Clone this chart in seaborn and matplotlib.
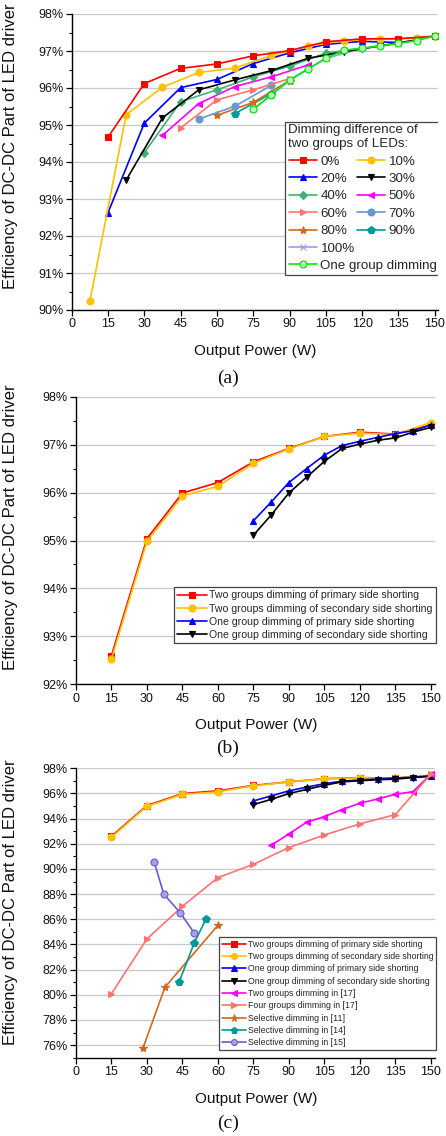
import matplotlib
matplotlib.use("Agg")
import matplotlib.pyplot as plt
import seaborn as sns
from matplotlib.lines import Line2D
from matplotlib.patches import Rectangle
from matplotlib.ticker import MultipleLocator, AutoMinorLocator, PercentFormatter

# ---------------- data ----------------
# (a) dimming difference of two LED groups
P0_X = [15, 30, 45, 60, 75, 90, 105, 120, 135, 150]
P0_Y = [94.67, 96.12, 96.53, 96.65, 96.87, 97.01, 97.25, 97.33, 97.33, 97.40]
P10_X = [7.5, 22.5, 37.5, 52.5, 67.5, 82.5, 97.5, 112.5, 127.5, 142.5, 150]
P10_Y = [90.23, 95.28, 96.02, 96.42, 96.54, 96.88, 97.13, 97.28, 97.32, 97.36, 97.40]
P20_X = [15, 30, 45, 60, 75, 90, 105, 120, 135]
P20_Y = [92.63, 95.05, 96.01, 96.23, 96.66, 96.95, 97.18, 97.26, 97.23]
P30_X = [22.5, 37.5, 52.5, 67.5, 82.5, 97.5, 112.5, 127.5, 142.5]
P30_Y = [93.51, 95.19, 95.95, 96.22, 96.47, 96.80, 96.98, 97.14, 97.30]
P40_X = [30, 45, 60, 75, 90, 105, 120]
P40_Y = [94.25, 95.63, 95.95, 96.30, 96.59, 96.94, 97.08]
P50_X = [37.5, 52.5, 67.5, 82.5, 97.5]
P50_Y = [94.72, 95.58, 96.04, 96.30, 96.62]
P60_X = [45, 60, 75, 90]
P60_Y = [94.92, 95.68, 95.95, 96.25]
P70_X = [52.5, 67.5, 82.5]
P70_Y = [95.16, 95.51, 96.07]
P80_X = [60, 75, 90]
P80_Y = [95.26, 95.61, 96.20]
P90_X = [67.5, 82.5]
P90_Y = [95.31, 95.85]
P100_X = [75, 90, 105, 120, 135, 150]
P100_Y = [95.42, 96.20, 96.80, 97.07, 97.20, 97.40]
ONE_A_X = [75, 82.5, 90, 97.5, 105, 112.5, 120, 127.5, 135, 142.5, 150]
ONE_A_Y = [95.43, 95.81, 96.22, 96.51, 96.80, 97.02, 97.07, 97.14, 97.21, 97.28, 97.41]

# (b) primary vs. secondary side shorting
TWO_X = [15, 30, 45, 60, 75, 90, 105, 120, 135, 150]
TWO_PRI_Y = [92.60, 95.04, 95.99, 96.21, 96.64, 96.92, 97.17, 97.26, 97.22, 97.41]
TWO_SEC_Y = [92.53, 94.98, 95.93, 96.13, 96.61, 96.91, 97.17, 97.24, 97.21, 97.46]
ONE_X = [75, 82.5, 90, 97.5, 105, 112.5, 120, 127.5, 135, 142.5, 150]
ONE_PRI_Y = [95.41, 95.80, 96.21, 96.50, 96.78, 96.98, 97.07, 97.15, 97.23, 97.29, 97.41]
ONE_SEC_Y = [95.11, 95.53, 95.99, 96.32, 96.65, 96.92, 97.01, 97.09, 97.14, 97.26, 97.36]

# (c) comparison with published dimming schemes
TWO17_X = [82.5, 90, 97.5, 105, 112.5, 120, 127.5, 135, 142.5, 150]
TWO17_Y = [91.88, 92.78, 93.71, 94.16, 94.72, 95.22, 95.56, 95.93, 96.15, 97.52]
FOUR17_X = [15, 30, 45, 60, 75, 90, 105, 120, 135, 150]
FOUR17_Y = [80.09, 84.44, 87.03, 89.31, 90.37, 91.70, 92.70, 93.58, 94.32, 97.52]
SEL11_X = [28.3, 37.6, 60.0]
SEL11_Y = [75.75, 80.60, 85.52]
SEL14_X = [43.6, 50.0, 55.0]
SEL14_Y = [81.02, 84.12, 86.03]
SEL15_X = [33.1, 37.1, 44.0, 50.0]
SEL15_Y = [90.53, 88.01, 86.53, 84.91]

XTICKS = [0, 15, 30, 45, 60, 75, 90, 105, 120, 135, 150]

# ---------------- styling ----------------
sns.set_theme(style="white")
plt.rcParams["font.family"] = ["Liberation Sans", "DejaVu Sans"]
plt.rcParams["axes.edgecolor"] = "black"

W, H = 446, 1136
fig = plt.figure(figsize=(W / 100, H / 100), dpi=100)


def add_axes(left, top, right, bottom):
    return fig.add_axes([left / W, 1 - bottom / H, (right - left) / W, (bottom - top) / H])


def style(color, marker, ms=5.0, mfc=None, mec=None):
    return dict(color=color, marker=marker, markersize=ms,
                markerfacecolor=mfc if mfc else color,
                markeredgecolor=mec if mec else color,
                markeredgewidth=0.8, linewidth=1.2)


def draw(ax, x, y, st, z=2):
    sns.lineplot(x=x, y=y, ax=ax, sort=False, estimator=None, legend=False,
                 zorder=z, **st)


def handle(st):
    return Line2D([], [], **st)


def format_axes(ax, xmax, ylim, ymajor, height_px):
    ax.set_xlim(0, xmax)
    ax.set_ylim(*ylim)
    ax.set_xticks(XTICKS)
    ax.yaxis.set_major_locator(MultipleLocator(ymajor))
    ax.yaxis.set_minor_locator(AutoMinorLocator(2))
    ax.yaxis.set_major_formatter(PercentFormatter(xmax=100, decimals=0))
    for s in ["top", "right"]:
        ax.spines[s].set_visible(False)
    for s in ["left", "bottom"]:
        ax.spines[s].set_color("black")
        ax.spines[s].set_linewidth(1.0)
    ax.tick_params(axis="both", which="major", direction="out", length=4,
                   width=0.9, color="black", labelsize=9, pad=2,
                   bottom=True, left=True, labelcolor="#111111")
    ax.tick_params(axis="y", which="minor", direction="out", length=2.5,
                   width=0.8, color="black", left=True)
    ax.yaxis.grid(True, color="#c8c8c8", linewidth=0.9)
    ax.xaxis.grid(False)
    ax.set_axisbelow(True)
    ax.set_xlabel("Output Power (W)", fontsize=11, color="#111111")
    ax.xaxis.label.set_va("center")
    ax.xaxis.set_label_coords(0.5, -41 / height_px)
    ax.set_ylabel("Efficiency of DC-DC Part of LED driver", fontsize=12,
                  color="#111111")
    ax.yaxis.label.set_va("center")


RED = style("#FF0000", "s")
GOLD = style("#FFC000", "o")
BLUE = style("#0000FF", "^")
BLACK = style("#000000", "v")
GREEN40 = style("#3CB371", "D", ms=4.5)
MAGENTA = style("#FF00FF", "<")
SALMON = style("#FF7373", ">")
STEEL = style("#6699CC", "o")
BROWN = style("#D2691E", "*", ms=6)
TEAL = style("#009999", "p", ms=5.5)
LAVENDER = style("#9999EE", "x", ms=4.5)
LIME = style("#00EE00", "o", mfc="#B8FFB8", mec="#00DD00")
SLATE = style("#6A5ACD", "o", mfc="#A89FE8")

# ---------------- panel (a) ----------------
axA = add_axes(71.7, 14, 71.7 + 151.5 * 2.42, 310)
series_a = [
    ("100%", P100_X, P100_Y, LAVENDER),
    ("90%", P90_X, P90_Y, TEAL),
    ("80%", P80_X, P80_Y, BROWN),
    ("70%", P70_X, P70_Y, STEEL),
    ("60%", P60_X, P60_Y, SALMON),
    ("50%", P50_X, P50_Y, MAGENTA),
    ("40%", P40_X, P40_Y, GREEN40),
    ("30%", P30_X, P30_Y, BLACK),
    ("20%", P20_X, P20_Y, BLUE),
    ("10%", P10_X, P10_Y, GOLD),
    ("0%", P0_X, P0_Y, RED),
    ("One group dimming", ONE_A_X, ONE_A_Y, LIME),
]
for i, (lab, x, y, st) in enumerate(series_a):
    draw(axA, x, y, st, z=2 + i * 0.01)
format_axes(axA, 151.5, (90, 98), 1, 296)
axA.yaxis.set_label_coords((11 - 71.7) / (151.5 * 2.42), 0.554)

sty_a = {lab: st for lab, _, _, st in series_a}
top_order = ["0%", "20%", "40%", "60%", "80%", "10%", "30%", "50%", "70%", "90%"]
leg_kw = dict(frameon=False, borderpad=0, borderaxespad=0, fontsize=9.6,
              handlelength=2.1, handletextpad=0.3, labelspacing=0.38)
leg1 = axA.legend([handle(sty_a[k]) for k in top_order], top_order, ncol=2,
                  title="Dimming difference of\ntwo groups of LEDs:",
                  title_fontsize=9.6, alignment="left", loc="upper left",
                  columnspacing=0.7,
                  bbox_to_anchor=(288.5 / W, 1 - 124.5 / H),
                  bbox_transform=fig.transFigure, **leg_kw)
leg1.set_zorder(6)
axA.add_artist(leg1)
fig.canvas.draw()
inv = fig.transFigure.inverted()
bb1 = leg1.get_window_extent().transformed(inv)
bot_labels = ["100%", "One group dimming"]
leg2 = axA.legend([handle(sty_a[k]) for k in bot_labels], bot_labels,
                  loc="upper left",
                  bbox_to_anchor=(bb1.x0, bb1.y0 - 5.0 / H),
                  bbox_transform=fig.transFigure, **leg_kw)
leg2.set_zorder(6)
fig.canvas.draw()
bb2 = leg2.get_window_extent().transformed(inv)
x0 = min(bb1.x0, bb2.x0) - 4 / W
x1 = max(bb1.x1, bb2.x1) + 3 / W
y0 = bb2.y0 - 3 / H
y1 = bb1.y1 + 3 / H
frame = Rectangle((x0, y0), x1 - x0, y1 - y0, transform=fig.transFigure,
                  facecolor="white", edgecolor="#444444", linewidth=0.9,
                  zorder=5)
axA.add_artist(frame)

# ---------------- panel (b) ----------------
axB = add_axes(76, 396.7, 76 + 152 * 2.365, 684.3)
series_b = [
    ("Two groups dimming of primary side shorting", TWO_X, TWO_PRI_Y, RED),
    ("Two groups dimming of secondary side shorting", TWO_X, TWO_SEC_Y, GOLD),
    ("One group dimming of primary side shorting", ONE_X, ONE_PRI_Y, BLUE),
    ("One group dimming of secondary side shorting", ONE_X, ONE_SEC_Y, BLACK),
]
for lab, x, y, st in series_b:
    draw(axB, x, y, st)
format_axes(axB, 152, (92, 98), 1, 287.6)
axB.yaxis.set_label_coords((11 - 76) / (152 * 2.365), 0.547)
legB = axB.legend([handle(st) for _, _, _, st in series_b],
                  [lab for lab, _, _, _ in series_b],
                  loc="lower right", bbox_to_anchor=(436 / W, 1 - 643 / H),
                  bbox_transform=fig.transFigure, fontsize=7.6, frameon=True,
                  fancybox=False, framealpha=1, edgecolor="#444444",
                  borderpad=0.3, borderaxespad=0, labelspacing=0.3,
                  handlelength=2.8, handletextpad=0.25)
legB.get_frame().set_linewidth(0.9)

# ---------------- panel (c) ----------------
axC = add_axes(76, 768.3, 76 + 152 * 2.365, 1057.7)
series_c = series_b + [
    ("Two groups dimming in [17]", TWO17_X, TWO17_Y, MAGENTA),
    ("Four groups dimming in [17]", FOUR17_X, FOUR17_Y, SALMON),
    ("Selective dimming in [11]", SEL11_X, SEL11_Y, BROWN),
    ("Selective dimming in [14]", SEL14_X, SEL14_Y, TEAL),
    ("Selective dimming in [15]", SEL15_X, SEL15_Y, SLATE),
]
for lab, x, y, st in series_c:
    draw(axC, x, y, st)
format_axes(axC, 152, (75, 98), 2, 289.4)
axC.yaxis.set_label_coords((11 - 76) / (152 * 2.365), 0.538)
small = [dict(st, markersize=st["markersize"] * 0.85) for _, _, _, st in series_c]
legC = axC.legend([handle(st) for st in small],
                  [lab for lab, _, _, _ in series_c],
                  loc="lower right", bbox_to_anchor=(436 / W, 1 - 1050 / H),
                  bbox_transform=fig.transFigure, fontsize=6.3, frameon=True,
                  fancybox=False, framealpha=1, edgecolor="#444444",
                  borderpad=0.3, borderaxespad=0, labelspacing=0.38,
                  handlelength=2.7, handletextpad=0.25)
legC.get_frame().set_linewidth(0.9)

# ---------------- panel captions ----------------
for cap, yc in [("(a)", 378), ("(b)", 748), ("(c)", 1123)]:
    fig.text(228 / W, 1 - yc / H, cap, ha="center", va="center",
             fontsize=14, family=["Liberation Serif", "DejaVu Serif"],
             color="#111111")

fig.savefig("out.png", dpi=100, facecolor="white")
